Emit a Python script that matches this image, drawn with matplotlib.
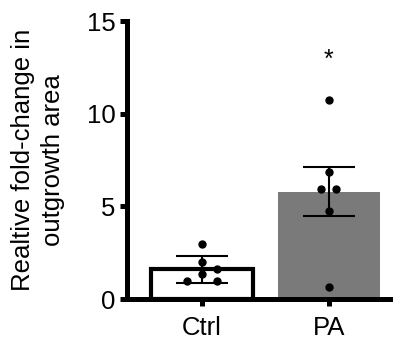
import numpy as np
import matplotlib.pyplot as plt

plt.rcParams['font.family'] = ['Liberation Sans', 'DejaVu Sans']

# data
groups = ['Ctrl', 'PA']
means = [1.6, 5.8]
sems = [0.75, 1.32]
ctrl_pts = [2.95, 2.0, 1.65, 1.35, 0.97, 0.97]
ctrl_dx = [0, 0, 0.12, 0, -0.12, 0.12]
pa_pts = [10.75, 6.86, 5.95, 5.95, 4.76, 0.65]
pa_dx = [0, 0, -0.06, 0.06, 0, 0]

fig = plt.figure(figsize=(4.04, 3.47), dpi=100)
ax = fig.add_axes([0.314, 0.138, 0.651, 0.801])

x = np.arange(len(groups))
ax.bar(x[0], means[0], width=0.8, color='white', edgecolor='black', linewidth=3, zorder=1)
ax.bar(x[1], means[1], width=0.8, color='#7a7a7a', edgecolor='none', zorder=1)
ax.errorbar(x, means, yerr=sems, fmt='none', ecolor='black', elinewidth=1.5,
            capsize=19, capthick=1.5, zorder=2)

ax.plot(x[0] + np.array(ctrl_dx), ctrl_pts, 'o', color='black', ms=5, zorder=3)
ax.plot(x[1] + np.array(pa_dx), pa_pts, 'o', color='black', ms=5, zorder=3)

ax.text(x[1], 12.9, '*', ha='center', va='center', fontsize=18)

ax.set_xlim(-0.59, 1.48)
ax.set_ylim(0, 15)
ax.set_yticks([0, 5, 10, 15])
ax.set_xticks(x)
ax.set_xticklabels(groups)
ax.tick_params(axis='both', width=3.6, length=5, labelsize=18.5, direction='out', pad=3)
ax.tick_params(axis='x', pad=7)
ax.set_ylabel('Realtive fold-change in\noutgrowth area', fontsize=18.5, labelpad=16,
              linespacing=1.3)

for s in ['top', 'right']:
    ax.spines[s].set_visible(False)
for s in ['left', 'bottom']:
    ax.spines[s].set_linewidth(3.6)

fig.savefig('out.png', dpi=100)
